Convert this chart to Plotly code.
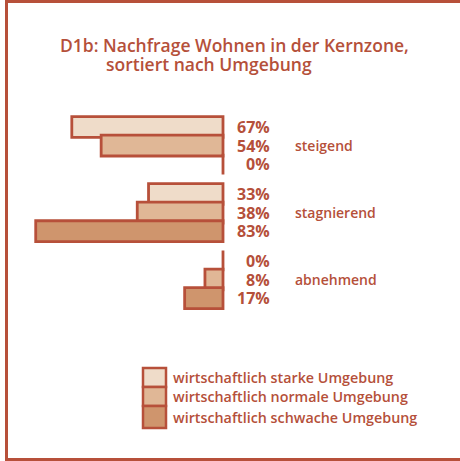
import plotly.graph_objects as go

# ---- data ----
trends = ["steigend", "stagnierend", "abnehmend"]
series_names = ["wirtschaftlich starke Umgebung",
                "wirtschaftlich normale Umgebung",
                "wirtschaftlich schwache Umgebung"]
stark = [67, 33, 0]
normal = [54, 38, 8]
schwach = [0, 83, 17]
title_line1 = "D1b: Nachfrage Wohnen in der Kernzone,"
title_line2 = "sortiert nach Umgebung"

# ---- style ----
W, H = 460, 461
edge = "#b7503a"
txt = "#b5503a"
fills = ["#efdcc9", "#e0b796", "#cf956d"]
FONT = "Open Sans"

# layout geometry (pixels)
zero_px = 223.0          # x pixel of the 0 value
px_per_pct = 2.2565
first_px = 127.0         # y pixel of first bar centre
slot_px = 18.6           # vertical pitch between bars
group_slots = 3.6        # group pitch in slots

x_left = zero_px / px_per_pct
x_right = (zero_px - W) / px_per_pct
y_top = -first_px / slot_px
y_bot = (H - first_px) / slot_px

series_vals = [stark, normal, schwach]

def ypos(g, s):
    return g * group_slots + s

fig = go.Figure()
for s, (name, vals) in enumerate(zip(series_names, series_vals)):
    fig.add_trace(go.Bar(
        x=vals,
        y=[ypos(g, s) for g in range(len(trends))],
        orientation="h",
        width=1.12,
        name=name,
        marker=dict(color=fills[s], line=dict(color=edge, width=2.8)),
        showlegend=False,
        hoverinfo="x+name",
    ))

annotations = []
# value labels
for s, vals in enumerate(series_vals):
    for g, v in enumerate(vals):
        annotations.append(dict(
            x=-21.5, y=ypos(g, s), xref="x", yref="y",
            text=f"<b>{v}%</b>", showarrow=False, xanchor="right", yanchor="middle",
            font=dict(family=FONT, size=16, color=txt),
        ))
# category labels
for g, t in enumerate(trends):
    annotations.append(dict(
        x=-31, y=ypos(g, 1), xref="x", yref="y",
        text=t, showarrow=False, xanchor="left", yanchor="middle",
        font=dict(family=FONT, size=14, color=txt, weight=600),
    ))
# title
annotations.append(dict(x=58 / W, y=1 - 45 / H, xref="paper", yref="paper",
                        text=title_line1, showarrow=False, xanchor="left", yanchor="middle",
                        font=dict(family=FONT, size=17.5, color=txt, weight=600)))
annotations.append(dict(x=104 / W, y=1 - 64 / H, xref="paper", yref="paper",
                        text=title_line2, showarrow=False, xanchor="left", yanchor="middle",
                        font=dict(family=FONT, size=17.5, color=txt, weight=600)))

shapes = []
# legend boxes
leg_x0, leg_x1 = 143, 166
leg_y = [368, 387, 406, 428]
for s, name in enumerate(series_names):
    shapes.append(dict(type="rect", xref="paper", yref="paper",
                       x0=leg_x0 / W, x1=leg_x1 / W,
                       y0=1 - leg_y[s] / H, y1=1 - leg_y[s + 1] / H,
                       fillcolor=fills[s], line=dict(color=edge, width=2.5)))
    annotations.append(dict(x=171 / W, y=1 - (leg_y[s] + leg_y[s + 1]) / 2 / H,
                            xref="paper", yref="paper", text=name, showarrow=False,
                            xanchor="left", yanchor="middle",
                            font=dict(family=FONT, size=14.3, color=txt, weight=600)))
# frame
shapes.append(dict(type="line", xref="paper", yref="paper", x0=6.5 / W, x1=6.5 / W, y0=0, y1=1,
                   line=dict(color=edge, width=3)))
shapes.append(dict(type="line", xref="paper", yref="paper", x0=5 / W, x1=1, y0=1 - 1.5 / H, y1=1 - 1.5 / H,
                   line=dict(color=edge, width=3)))
shapes.append(dict(type="line", xref="paper", yref="paper", x0=5 / W, x1=1, y0=1 - 459.5 / H, y1=1 - 459.5 / H,
                   line=dict(color=edge, width=3)))

fig.update_layout(
    width=W, height=H,
    margin=dict(l=0, r=0, t=0, b=0),
    paper_bgcolor="white", plot_bgcolor="white",
    barmode="overlay",
    xaxis=dict(range=[x_left, x_right], visible=False, fixedrange=True),
    yaxis=dict(range=[y_bot, y_top], visible=False, fixedrange=True),
    annotations=annotations,
    shapes=shapes,
)

fig.write_html("out.html", config={"displayModeBar": False},
               post_script="document.body.style.margin='0';document.body.style.overflow='hidden';")
